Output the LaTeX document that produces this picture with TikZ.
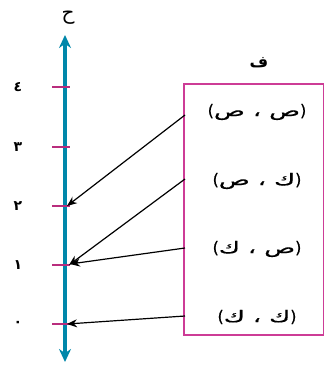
\documentclass[tikz,border=0pt]{standalone}
\usepackage{fontspec}
\newfontfamily\arabicfont[Script=Arabic]{DejaVu Sans}
\newfontfamily\arabicbold[Script=Arabic]{DejaVu Sans Bold}
\newfontfamily\arabicwide[Script=Arabic,FakeStretch=1.6,FakeBold=0.6]{DejaVu Sans}
\newfontfamily\latfont[FakeBold=0.6]{DejaVu Sans}
\TeXXeTstate=1
\usetikzlibrary{arrows.meta}
\definecolor{axisc}{RGB}{0,135,170}
\definecolor{tickc}{RGB}{185,45,125}
\definecolor{boxc}{RGB}{205,60,150}
\newcommand{\pairtxt}[2]{{\latfont(}\hbox{#1}\hspace{8pt}\hbox{،}\hspace{8pt}\hbox{#2}{\latfont)}}
\tikzset{
  lbl/.style={font=\arabicbold\fontsize{14}{16}\selectfont, inner sep=1pt},
  pairlbl/.style={font=\arabicwide\fontsize{16}{18}\selectfont, inner sep=1pt},
  tickmark/.style={draw=tickc, line width=1.8pt},
  mapar/.style={draw=black, line width=1.2pt, -{Stealth[length=10pt,width=8pt]}},
}
\begin{document}
\begin{tikzpicture}[x=1pt,y=-1pt]
\useasboundingbox (0,0) rectangle (325,367);
% axis
\coordinate (atop) at (65,35);
\coordinate (abot) at (65,362);
\draw[draw=axisc, line width=3.2pt, {Stealth[length=13pt,width=12pt]}-{Stealth[length=13pt,width=12pt]}] (abot) -- (atop);
\node[font=\arabicfont\fontsize{20}{22}\selectfont, inner sep=0pt] (hlabel) at (68,18) {ح};
% ticks
\foreach \n/\yy/\d in {t0/324/٠, t1/265/١, t2/206/٢, t3/147/٣, t4/87/٤}{
  \coordinate (\n) at (65,\yy);
  \draw[tickmark] (52,\yy) -- (70,\yy);
  \node[lbl] (\n l) at (18,\yy) {\d};
}
% box
\draw[draw=boxc, line width=1.8pt] (184,84) rectangle (323.5,335);
\node[font=\arabicbold\fontsize{16}{18}\selectfont, inner sep=0pt] (flabel) at (259,63) {ف};
\node[pairlbl] (p1) at (257,112) {\pairtxt{ص}{ص}};
\node[pairlbl] (p2) at (257,181) {\pairtxt{ص}{ك}};
\node[pairlbl] (p3) at (257,249) {\pairtxt{ك}{ص}};
\node[pairlbl] (p4) at (257,317) {\pairtxt{ك}{ك}};
\coordinate (s1) at (185,115);
\coordinate (s2) at (185,179);
\coordinate (s3) at (185,248);
\coordinate (s4) at (185,316);
\coordinate (e1) at (67,206);
\coordinate (e2) at (69,265);
\coordinate (e3) at (70,264);
\coordinate (e4) at (67,324);
\draw[mapar] (s1) -- (e1);
\draw[mapar] (s2) -- (e2);
\draw[mapar] (s3) -- (e3);
\draw[mapar] (s4) -- (e4);
\end{tikzpicture}
\end{document}
